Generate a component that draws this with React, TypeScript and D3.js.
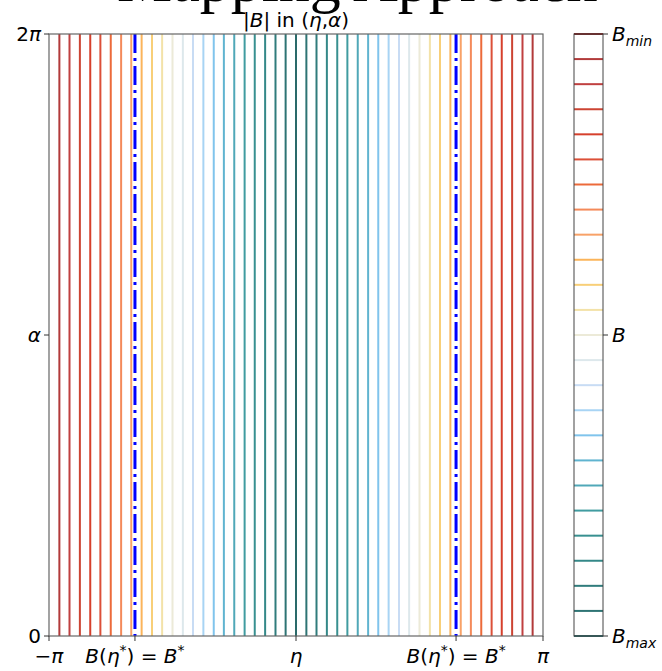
import React from "react";
import * as d3 from "d3";

// contour positions (eta / pi) and their level index (0 = B_min ... 24 = B_max)
const contourEta = [
  -0.958, -0.917, -0.875, -0.833, -0.792, -0.75, -0.708, -0.667, -0.625, -0.583, -0.542, -0.5,
  -0.458, -0.417, -0.375, -0.333, -0.292, -0.25, -0.208, -0.167, -0.125, -0.083, -0.042, 0,
  0.042, 0.083, 0.125, 0.167, 0.208, 0.25, 0.292, 0.333, 0.375, 0.417, 0.458, 0.5,
  0.542, 0.583, 0.625, 0.667, 0.708, 0.75, 0.792, 0.833, 0.875, 0.917, 0.958,
];
const contourLevel = [
  1, 2, 3, 4, 5, 6, 7, 8, 9, 10, 11, 12, 13, 14, 15, 16, 17, 18, 19, 20, 21, 22, 23, 24,
  23, 22, 21, 20, 19, 18, 17, 16, 15, 14, 13, 12, 11, 10, 9, 8, 7, 6, 5, 4, 3, 2, 1,
];
const levelValues = d3.range(0, 25);
const levelColors = [
  "#8b1f1f", "#b23a3a", "#c04040", "#cc4433", "#d6402c", "#dc5038", "#ec6a3a", "#f48a5a",
  "#f8a268", "#fbb45a", "#f8cf78", "#f3e2a8", "#ecead8", "#dde8ec", "#c8dcf4", "#a8d4f4",
  "#80c4ec", "#60b4d0", "#50a8b8", "#409ca0", "#389090", "#348888", "#307c7c", "#2e7474",
  "#2a6a6a",
];
const etaStar = [-0.652, 0.648];
const xTickEta = [-1, -0.652, 0, 0.648, 1];
const xTickLabels = ["−π", "B(η*) = B*", "η", "B(η*) = B*", "π"];
const yTickAlpha = [0, 1, 2];
const yTickLabels = ["0", "α", "2π"];

const W = 662, H = 671;
const L = 49, R = 543, T = 34, B = 636;
const CB_L = 574, CB_R = 603;
const FS = 20;

function MathLabel({ label, x, y, anchor }: { label: string; x: number; y: number; anchor: string }) {
  const fam = "DejaVu Sans";
  if (label === "B(η*) = B*") {
    return (
      <text x={x} y={y} textAnchor={anchor as any} fontFamily={fam} fontSize={FS}>
        <tspan fontStyle="italic">B</tspan>(<tspan fontStyle="italic">η</tspan>
        <tspan fontSize={14} dy={-8}>*</tspan>
        <tspan dy={8}>) = </tspan>
        <tspan fontStyle="italic">B</tspan>
        <tspan fontSize={14} dy={-8}>*</tspan>
      </text>
    );
  }
  if (label === "−π") {
    return (
      <text x={x} y={y} textAnchor={anchor as any} fontFamily={fam} fontSize={FS}>
        −<tspan fontStyle="italic">π</tspan>
      </text>
    );
  }
  if (label === "2π") {
    return (
      <text x={x} y={y} textAnchor={anchor as any} fontFamily={fam} fontSize={FS}>
        2<tspan fontStyle="italic">π</tspan>
      </text>
    );
  }
  const italic = label === "0" ? "normal" : "italic";
  return (
    <text x={x} y={y} textAnchor={anchor as any} fontFamily={fam} fontSize={FS} fontStyle={italic}>
      {label}
    </text>
  );
}

export default function App() {
  const x = d3.scaleLinear().domain([-1, 1]).range([L, R]);
  const y = d3.scaleLinear().domain([0, 2]).range([B, T]);
  const cy = d3.scaleLinear().domain([0, 24]).range([T, B]);
  const colorOf = (lv: number) => levelColors[lv];

  return (
    <svg width={W} height={H} style={{ position: "absolute", left: 0, top: 0 }}>
      <rect width={W} height={H} fill="#fff" />
      <text x={117} y={1} fontFamily="Liberation Serif" fontSize={62} fill="#000">
        Mapping Approach
      </text>
      <text x={(L + R) / 2} y={27} textAnchor="middle" fontFamily="DejaVu Sans" fontSize={FS}>
        |<tspan fontStyle="italic">B</tspan>| in (<tspan fontStyle="italic">η</tspan>,<tspan fontStyle="italic">α</tspan>)
      </text>

      {contourEta.map((e, i) => (
        <line
          key={i}
          x1={x(e)}
          x2={x(e)}
          y1={y(0)}
          y2={y(2)}
          stroke={colorOf(contourLevel[i])}
          strokeWidth={2}
        />
      ))}
      {etaStar.map((e, i) => (
        <line
          key={"s" + i}
          x1={x(e)}
          x2={x(e)}
          y1={y(2)}
          y2={y(0)}
          stroke="#0000ff"
          strokeWidth={3}
          strokeDasharray="19,5,3,5"
        />
      ))}
      <rect x={L} y={T} width={R - L} height={B - T} fill="none" stroke="#666" strokeWidth={1.2} />

      {xTickEta.map((e, i) => (
        <g key={"xt" + i}>
          <line x1={x(e)} x2={x(e)} y1={B} y2={B + 5} stroke="#333" />
          <MathLabel label={xTickLabels[i]} x={x(e)} y={B + 27} anchor="middle" />
        </g>
      ))}
      {yTickAlpha.map((a, i) => (
        <g key={"yt" + i}>
          <line x1={L - 5} x2={L} y1={y(a)} y2={y(a)} stroke="#333" />
          <MathLabel label={yTickLabels[i]} x={L - 8} y={y(a) + 7} anchor="end" />
        </g>
      ))}

      {levelValues.map((lv) => (
        <line
          key={"cb" + lv}
          x1={CB_L}
          x2={CB_R}
          y1={cy(lv)}
          y2={cy(lv)}
          stroke={colorOf(lv)}
          strokeWidth={2}
        />
      ))}
      <rect x={CB_L} y={T} width={CB_R - CB_L} height={B - T} fill="none" stroke="#444" strokeWidth={1} />
      {[0, 12, 24].map((lv, i) => (
        <g key={"cbt" + i}>
          <line x1={CB_R} x2={CB_R + 5} y1={cy(lv)} y2={cy(lv)} stroke="#333" />
          <text x={CB_R + 9} y={cy(lv) + 7} fontFamily="DejaVu Sans" fontSize={FS} fontStyle="italic">
            B
            {lv === 0 && <tspan fontSize={14} dy={5}>min</tspan>}
            {lv === 24 && <tspan fontSize={14} dy={5}>max</tspan>}
          </text>
        </g>
      ))}
    </svg>
  );
}
